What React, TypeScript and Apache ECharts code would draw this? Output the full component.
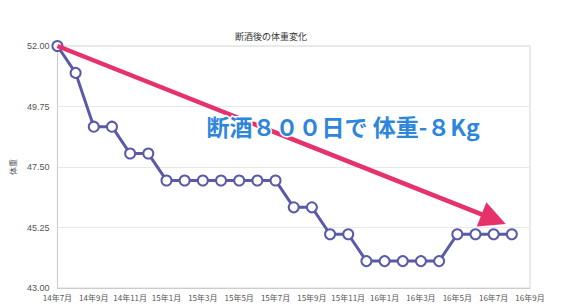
import React, { useEffect, useRef } from "react";
import * as echarts from "echarts";

const monthLabels = [
  "14年7月", "14年8月", "14年9月", "14年10月", "14年11月", "14年12月",
  "15年1月", "15年2月", "15年3月", "15年4月", "15年5月", "15年6月",
  "15年7月", "15年8月", "15年9月", "15年10月", "15年11月", "15年12月",
  "16年1月", "16年2月", "16年3月", "16年4月", "16年5月", "16年6月",
  "16年7月", "16年8月", "16年9月",
];

const weights = [
  52, 51, 49, 49, 48, 48, 47, 47, 47, 47, 47, 47, 47, 46, 46, 45, 45,
  44, 44, 44, 44, 44, 45, 45, 45, 45,
];

const yMin = 43;
const yMax = 52;
const yStep = 2.25;

const arrowStart = [0, 52];
const arrowEnd = [24, 45.56];

const titleText = "断酒後の体重変化";
const yName = "体重";
const noteText = "断酒８００日で 体重-８Kg";

const FONT = '"Noto Sans CJK JP", "Noto Sans", sans-serif';

export default function App() {
  const ref = useRef<HTMLDivElement>(null);
  useEffect(() => {
    if (!ref.current) return;
    const chart = echarts.init(ref.current, null, { renderer: "svg" });
    chart.setOption({
      animation: false,
      textStyle: { fontFamily: FONT },
      title: {
        text: titleText,
        left: 230,
        top: 27,
        textStyle: { fontSize: 9, fontWeight: "normal", color: "#333", fontFamily: FONT },
      },
      grid: {
        left: 46,
        right: 34,
        top: 46,
        bottom: 20,
        show: true,
        borderColor: "#d4d4d4",
        borderWidth: 1,
      },
      xAxis: {
        type: "category",
        data: monthLabels,
        boundaryGap: false,
        axisLine: { lineStyle: { color: "#cccccc" } },
        axisTick: { show: false },
        axisLabel: { interval: 1, fontSize: 8, color: "#555", margin: 5, fontFamily: FONT },
        splitLine: { show: false },
      },
      yAxis: [
        {
          type: "value",
          min: yMin,
          max: yMax,
          show: false,
          splitLine: { show: false },
        },
        {
          type: "value",
          position: "left",
          min: 0,
          max: yMax - yMin,
          interval: yStep,
          name: yName,
          nameLocation: "middle",
          nameGap: 36,
          nameTextStyle: { fontSize: 8, color: "#555", fontFamily: FONT },
          axisLine: { show: true, lineStyle: { color: "#cccccc" } },
          axisTick: { show: false },
          axisLabel: {
            fontSize: 9,
            color: "#555",
            margin: 8,
            fontFamily: "Liberation Sans, Arial, sans-serif",
            formatter: (v: number) => (v + yMin).toFixed(2),
          },
          splitLine: { show: true, lineStyle: { color: "#e8e8e8" } },
        },
      ],
      series: [
        {
          type: "line",
          data: weights,
          yAxisIndex: 0,
          symbol: "emptyCircle",
          symbolSize: 10,
          z: 3,
          lineStyle: { width: 3, color: "#5a5aa9" },
          itemStyle: { color: "#5a5aa9", borderWidth: 2.5 },
          markLine: {
            silent: true,
            symbol: ["none", "triangle"],
            symbolSize: [26, 26],
            label: { show: false },
            lineStyle: { color: "#e6316b", width: 4.5, type: "solid" },
            emphasis: { disabled: true },
            data: [[{ coord: arrowStart }, { coord: arrowEnd }]],
          },
        },
      ],
      graphic: [
        {
          type: "text",
          left: 205,
          top: 113,
          z: 100,
          style: {
            text: noteText,
            font: `bold 23px ${FONT}`,
            fill: "#2d86dc",
            stroke: "#ffffff",
            lineWidth: 3,
            shadowBlur: 3,
            shadowColor: "rgba(0,0,0,0.35)",
            shadowOffsetY: 1,
          },
        },
      ],
    });
    return () => chart.dispose();
  }, []);
  return (
    <div
      ref={ref}
      style={{ position: "fixed", left: 0, top: 0, width: 564, height: 308, background: "#fff" }}
    />
  );
}
